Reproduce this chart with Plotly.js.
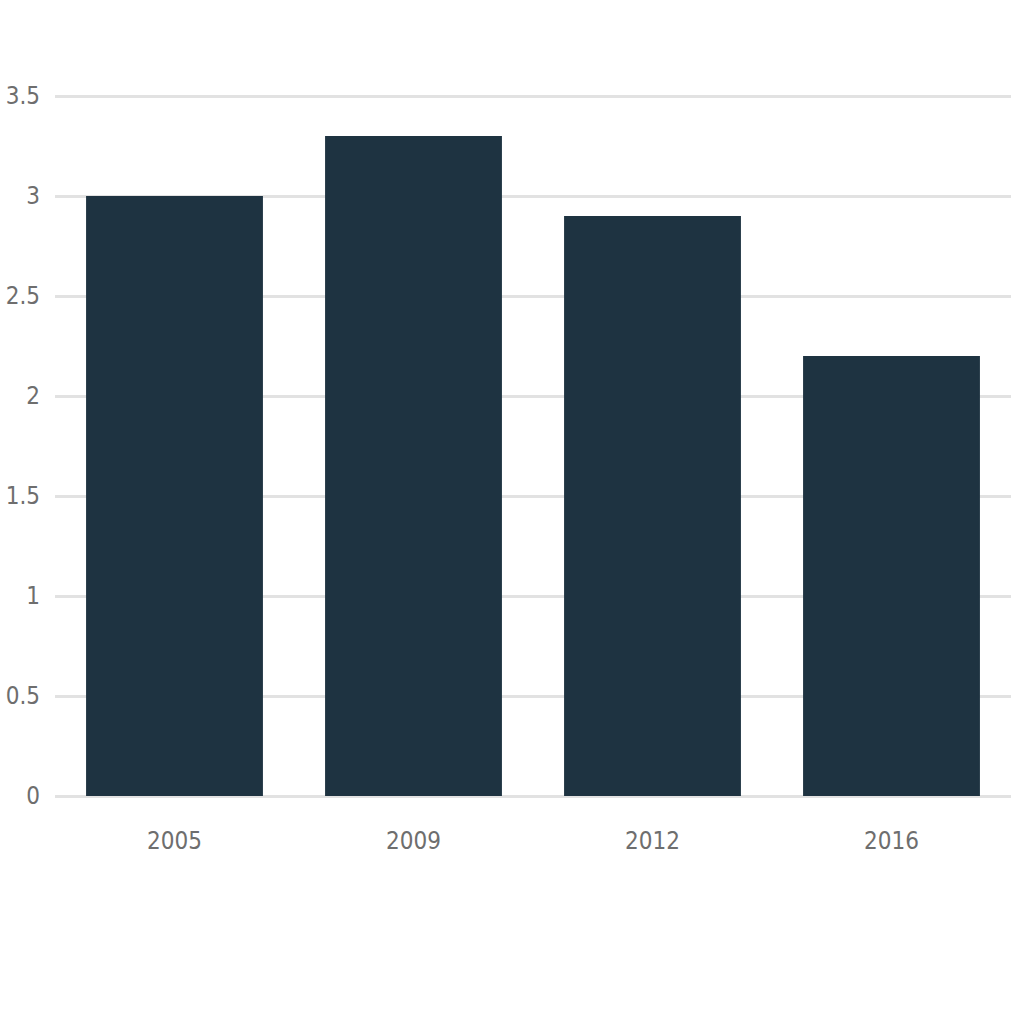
<!DOCTYPE html>
<html>
<head>
<meta charset="utf-8">
<script src="https://cdn.plot.ly/plotly-3.0.1.min.js"></script>
<style>html,body{margin:0;padding:0;background:#fff;}#chart{width:1024px;height:1024px;}</style>
</head>
<body>
<div id="chart"></div>
<script>
const years = ["2005", "2009", "2012", "2016"];
const values = [3.0, 3.3, 2.9, 2.2];
const yTicks = [0, 0.5, 1, 1.5, 2, 2.5, 3, 3.5];
const yTickLabels = ["0", "0.5", "1", "1.5", "2", "2.5", "3", "3.5"];

const fontFam = "'Liberation Sans Narrow', 'DejaVu Sans Condensed', 'Roboto', sans-serif";

Plotly.newPlot("chart", [{
  type: "bar",
  x: years,
  y: values,
  marker: {color: "#1e3341"},
  hoverinfo: "x+y"
}], {
  width: 1024,
  height: 1024,
  margin: {l: 55, r: 13, t: 94, b: 228},
  paper_bgcolor: "#ffffff",
  plot_bgcolor: "#ffffff",
  bargap: 0.26,
  showlegend: false,
  xaxis: {
    type: "category",
    showgrid: false,
    zeroline: false,
    showline: false,
    ticks: "",
    ticklabelstandoff: 28,
    tickfont: {family: fontFam, size: 24, color: "#6e6e6e"}
  },
  yaxis: {
    range: [0, 3.51],
    tickvals: yTicks,
    ticktext: yTickLabels,
    showgrid: true,
    gridcolor: "#e2e2e2",
    gridwidth: 3,
    zeroline: true,
    zerolinecolor: "#e2e2e2",
    zerolinewidth: 3,
    showline: false,
    ticks: "",
    ticklabelstandoff: 14,
    tickfont: {family: fontFam, size: 24, color: "#6e6e6e"}
  }
}, {displayModeBar: false, staticPlot: true});
</script>
</body>
</html>
